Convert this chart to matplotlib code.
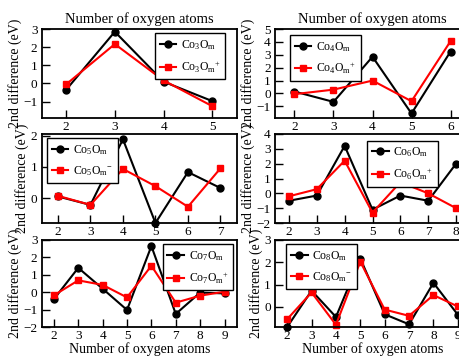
import numpy as np
import matplotlib
matplotlib.use("Agg")
import matplotlib.pyplot as plt

plt.rcParams['font.family'] = ['Liberation Serif', 'DejaVu Serif']
plt.rcParams['mathtext.fontset'] = 'custom'
plt.rcParams['mathtext.rm'] = 'Liberation Serif'
plt.rcParams['mathtext.it'] = 'Liberation Serif:italic'
plt.rcParams['mathtext.default'] = 'regular'

# clusters Co_n O_m, second difference (eV)
co3_x = [2, 3, 4, 5]
co3_neu = [-0.35, 2.85, 0.10, -0.97]
co3_ion = [-0.05, 2.17, 0.17, -1.25]

co4_x = [2, 3, 4, 5, 6]
co4_neu = [0.15, -0.65, 2.85, -1.55, 3.25]
co4_ion = [-0.05, 0.30, 1.00, -0.60, 4.05]

co5_x = [2, 3, 4, 5, 6, 7]
co5_neu = [0.05, -0.22, 1.88, -0.80, 0.83, 0.32]
co5_ion = [0.07, -0.22, 0.93, 0.38, -0.28, 0.95]

co6_x = [2, 3, 4, 5, 6, 7, 8]
co6_neu = [-0.50, -0.15, 3.20, -1.10, -0.15, -0.50, 2.00]
co6_ion = [-0.20, 0.28, 2.20, -1.30, 0.75, 0.00, -1.00]

co7_x = [2, 3, 4, 5, 6, 7, 8, 9]
co7_neu = [-0.40, 1.40, 0.20, -1.02, 2.65, -1.25, -0.02, -0.07]
co7_ion = [-0.18, 0.68, 0.42, -0.30, 1.52, -0.60, -0.20, 0.03]

co8_x = [2, 3, 4, 5, 6, 7, 8, 9]
co8_neu = [-0.90, 0.73, -0.45, 2.17, -0.33, -0.78, 1.08, -0.35]
co8_ion = [-0.55, 0.65, -0.80, 2.03, -0.12, -0.40, 0.53, 0.02]

W, H = 460, 358


def box(x0, top, bottom, w=195):
    return [x0 / W, 1 - bottom / H, w / W, (bottom - top) / H]


panels = [
    # n, x, neutral, ion, charge, rect, xlim, ylim, yticks, legend loc, anchor, xlabel pos
    (3, co3_x, co3_neu, co3_ion, '+', box(41.7, 29, 118), (1.5, 5.5), (-1.9, 3), range(-1, 4), 'upper right', (0.96, 0.99), 'top'),
    (4, co4_x, co4_neu, co4_ion, '+', box(275, 29, 118), (1.5, 6.5), (-1.9, 5), range(-1, 6), 'upper left', (0.06, 0.97), 'top'),
    (5, co5_x, co5_neu, co5_ion, '-', box(41.7, 134, 223), (1.5, 7.5), (-0.8, 2.05), range(0, 3), 'upper left', (0.01, 0.99), None),
    (6, co6_x, co6_neu, co6_ion, '+', box(275, 134, 223), (1.5, 8.5), (-2, 4), range(-2, 5), 'upper left', (0.455, 0.965), None),
    (7, co7_x, co7_neu, co7_ion, '+', box(41.7, 240, 327), (1.5, 9.5), (-2, 3), range(-2, 4), 'upper right', (1.0, 0.99), 'bottom'),
    (8, co8_x, co8_neu, co8_ion, '-', box(275, 240, 327), (1.5, 9.5), (-0.9, 3), range(0, 4), 'upper left', (0.04, 0.99), 'bottom'),
]

fig = plt.figure(figsize=(W / 100, H / 100), dpi=100)

for n, x, neu, ion, q, rect, xl, yl, yt, loc, anchor, xlab in panels:
    ax = fig.add_axes(rect)
    ax.plot(x, neu, '-o', color='black', lw=1.5, ms=5, label=r'Co$_%d$O$_m$' % n, clip_on=False)
    ax.plot(x, ion, '-s', color='red', lw=1.5, ms=5, label=r'Co$_%d$O$_m$$^{%s}$' % (n, q), clip_on=False)
    ax.set_xlim(*xl)
    ax.set_ylim(*yl)
    ax.set_xticks(range(2, int(xl[1]) + 1))
    ax.set_yticks(list(yt))
    ax.tick_params(direction='in', length=6, width=1, labelsize=9.5, pad=3)
    ax.tick_params(axis='x', pad=2)
    for s in ax.spines.values():
        s.set_linewidth(1.3)
    ax.set_ylabel('2nd difference (eV)', fontsize=10, labelpad=1)
    if xlab == 'top':
        ax.set_title('Number of oxygen atoms', fontsize=10.5, pad=4)
    elif xlab == 'bottom':
        ax.set_xlabel('Number of oxygen atoms', fontsize=10, labelpad=0)
    leg = ax.legend(loc=loc, bbox_to_anchor=anchor, fontsize=8.5, handlelength=1.4,
                    fancybox=False, edgecolor='black', framealpha=1,
                    borderpad=0.4, labelspacing=0.6, handletextpad=0.4,
                    borderaxespad=0.3)
    leg.get_frame().set_linewidth(1.0)

fig.savefig('out.png', dpi=100)
